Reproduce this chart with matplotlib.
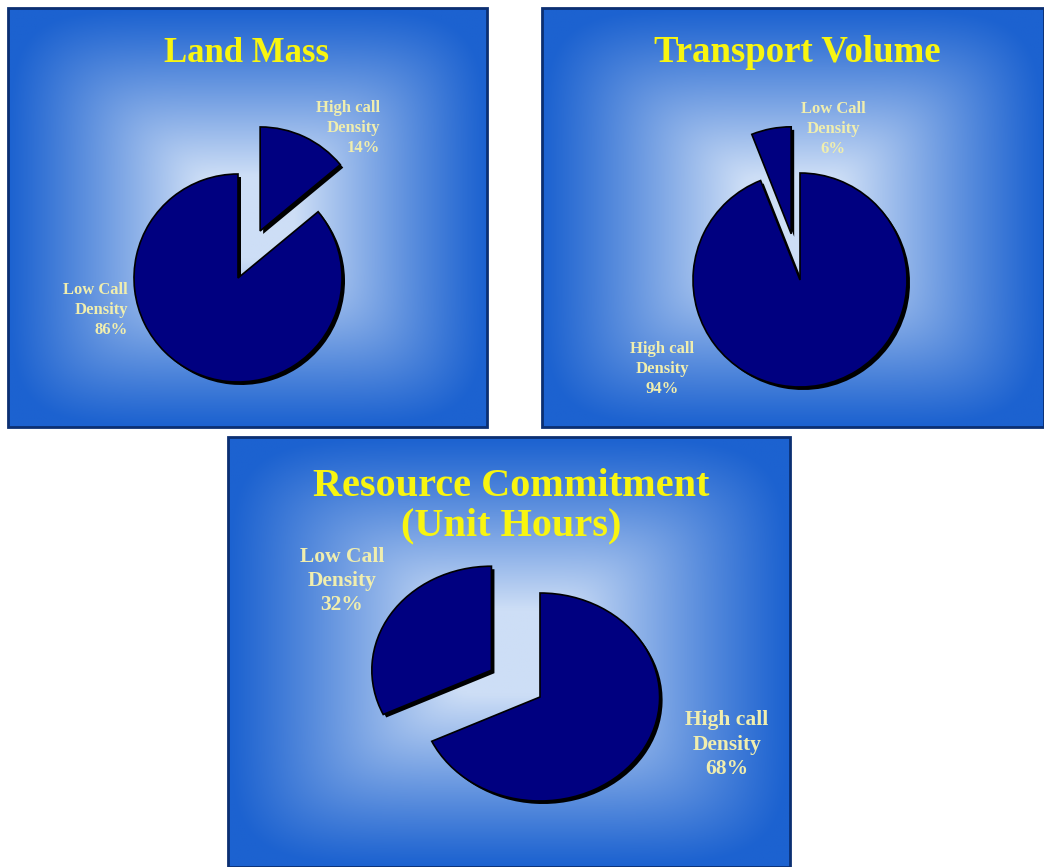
import numpy as np
import matplotlib
matplotlib.use('Agg')
from matplotlib import pyplot as plt
from matplotlib.patches import Rectangle

# chart data
titles = ['Land Mass', 'Transport Volume', 'Resource Commitment\n(Unit Hours)']
land_labels = ['High call\nDensity', 'Low Call\nDensity']
land_values = [14, 86]
transport_labels = ['Low Call\nDensity', 'High call\nDensity']
transport_values = [6, 94]
resource_labels = ['Low Call\nDensity', 'High call\nDensity']
resource_values = [32, 68]

W_PX, H_PX = 1044, 867
fig = plt.figure(figsize=(W_PX / 100, H_PX / 100), dpi=100, facecolor='white')

edge_col = np.array([28, 98, 208]) / 255
mid_col = np.array([205, 222, 246]) / 255
navy = '#000080'
title_col = '#f8f510'
label_col = '#f0eeae'
serif = ['Liberation Serif', 'DejaVu Serif']


def gradient(w, h, n=300):
    # rectangular "from centre" fill, like the old slide backgrounds
    xs = np.linspace(-1, 1, n)
    ys = np.linspace(-1, 1, int(n * h / w))
    X, Y = np.meshgrid(xs, ys)
    t = (np.abs(X) ** 6 + np.abs(Y) ** 6) ** (1 / 6)
    s = np.clip((1 - t) / 0.8, 0, 1) ** 1.1
    return edge_col + (mid_col - edge_col) * s[..., None]


# panel: box in image pixels (x0, y0, w, h), horizontal stretch,
# pie centre (px), radius, explode offset (data units), direction, label spots
panels = [
    dict(box=(8, 8, 479, 419), sx=1.0, center=(238, 278), r=104,
         values=land_values, labels=land_labels, explode=52, ccw=False,
         title_xy=(247, 53), title_size=25, lab_size=12,
         lab_xy=[(380, 128, 'right'), (128, 310, 'right')]),
    dict(box=(542, 8, 502, 419), sx=1.0, center=(800, 280), r=107,
         values=transport_values, labels=transport_labels, explode=47,
         ccw=True, title_xy=(797, 53), title_size=26.5, lab_size=12,
         lab_xy=[(833, 129, 'center'), (662, 369, 'center')]),
    dict(box=(228, 437, 562, 430), sx=1.15, center=(540, 697), r=104,
         values=resource_values, labels=resource_labels, explode=50,
         ccw=True, title_xy=(511, 506), title_size=29, lab_size=15.5,
         lab_xy=[(342, 581, 'center'), (727, 745, 'center')]),
]

for i, p in enumerate(panels):
    x0, y0, w, h = p['box']
    sx = p['sx']
    ax = fig.add_axes([x0 / W_PX, 1 - (y0 + h) / H_PX, w / W_PX, h / H_PX])
    bottom = y0 + h

    def dx(px):
        return (px - x0) / sx

    def dy(py):
        return bottom - py

    ax.imshow(gradient(w, h), extent=(0, w / sx, 0, h), aspect='auto', zorder=0)

    cx, cy = dx(p['center'][0]), dy(p['center'][1])
    ex = [p['explode'], 0]
    # shadow first, then the pie itself
    ax.pie(p['values'], explode=ex, startangle=90, counterclock=p['ccw'],
           center=(cx + 3 / sx, cy - 3), radius=p['r'], colors=['black', 'black'],
           wedgeprops=dict(linewidth=0, zorder=2))
    ax.pie(p['values'], explode=ex, startangle=90, counterclock=p['ccw'],
           center=(cx, cy), radius=p['r'], colors=[navy, navy],
           wedgeprops=dict(linewidth=1.2, edgecolor='black', zorder=3))

    ax.set_aspect('auto')
    ax.set_xlim(0, w / sx)
    ax.set_ylim(0, h)
    ax.axis('off')

    tx, ty = p['title_xy']
    ax.text(dx(tx), dy(ty), titles[i], ha='center', va='center',
            color=title_col, fontsize=p['title_size'], fontweight='bold',
            family=serif, linespacing=1.1, zorder=5)

    for lab, val, (lx, ly, ha) in zip(p['labels'], p['values'], p['lab_xy']):
        ax.text(dx(lx), dy(ly), '%s\n%d%%' % (lab, val), ha=ha, va='center',
                multialignment=ha, color=label_col, fontsize=p['lab_size'],
                fontweight='bold', family=serif, linespacing=1.3, zorder=5)

    ax.add_patch(Rectangle((0, 0), w / sx, h, fill=False, edgecolor='#0b2f72',
                           linewidth=2, zorder=6, clip_on=False))

fig.savefig('out.png', dpi=100, facecolor='white')
